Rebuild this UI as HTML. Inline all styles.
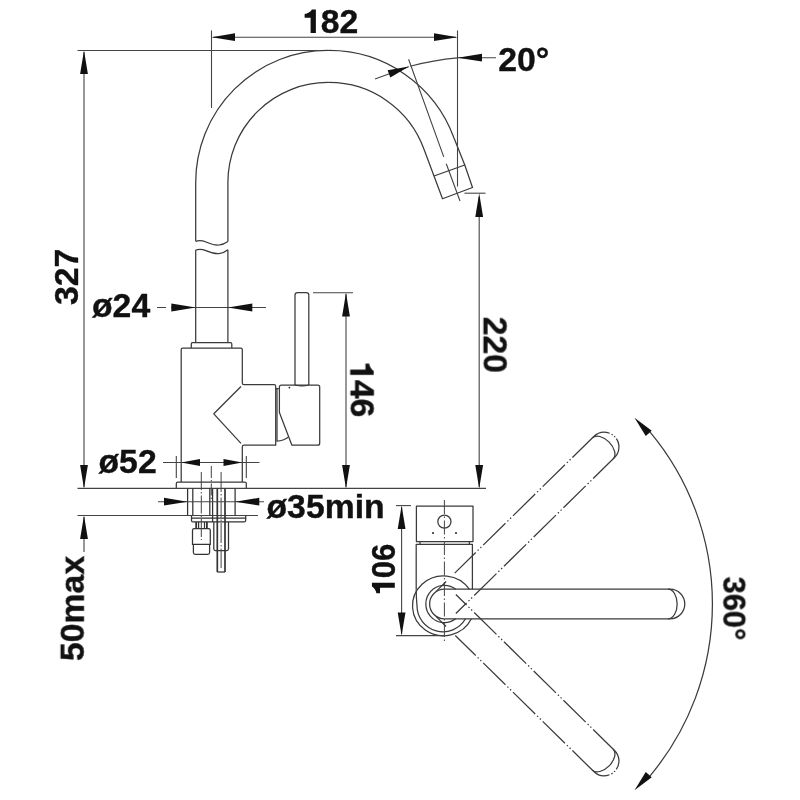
<!DOCTYPE html>
<html><head><meta charset="utf-8">
<style>
html,body{margin:0;padding:0;background:#fff;}
body{width:800px;height:800px;overflow:hidden;}
svg{display:block;}
text{font-family:"Liberation Sans",sans-serif;font-weight:bold;font-size:32px;fill:#111;stroke:#111;stroke-width:0.35;}
.o{fill:none;stroke:#3a3a3a;stroke-width:1.25;stroke-linecap:butt;stroke-linejoin:round;}
.d{fill:none;stroke:#444;stroke-width:1.1;}
.c{fill:none;stroke:#444;stroke-width:1;stroke-dasharray:14 2.5 1.5 2.5;}
.p{fill:none;stroke:#3a3a3a;stroke-width:1.25;stroke-dasharray:31.2 2.7 1.4 2.4 1.4 2.6;}
.a{fill:#111;stroke:none;}
</style></head><body>
<svg width="800" height="800" viewBox="0 0 800 800">
<rect width="800" height="800" fill="#fff"/>

<!-- ===== SIDE VIEW : spout ===== -->
<g class="o">
<path d="M195.7,241.3 V182.5 A132,132 0 0 1 328.5,50.5 A133,133 0 0 1 454,138 L464.75,165"/>
<path d="M227.9,241.5 V182.5 A100,100 0 0 1 328.5,82.5 A101,101 0 0 1 423.9,149 L434,176"/>
<path d="M434,176 L464.75,165 L472.5,187.5 L442.5,198.75 Z"/>
<!-- break waves -->
<path d="M195.7,241.3 C199,240.2 202,240.3 206,242 C211,244.3 215,245.3 219,245 C222.5,244.7 225.5,243.2 227.9,241.5"/>
<path d="M195.7,250 C199,248.8 202,248.9 206,250.6 C211,252.9 215,253.9 219,253.6 C222.5,253.3 225.5,251.8 227.9,249.8"/>
<path d="M195.7,250 V342.5"/>
<path d="M227.9,249.8 V342.5"/>
<!-- collar -->
<path d="M191.3,348 V343.9 Q191.3,342.7 192.5,342.7 H230.6 Q231.8,342.7 231.8,343.9 V348"/>
<!-- body -->
<path d="M181.2,482 V349.5 Q181.2,348 182.7,348 H240.8 Q242.3,348 242.3,349.5 V383 Q242.3,384.7 244,384.7 H274 Q275.7,384.7 275.7,386.4 V445.2 H244 Q242.3,445.2 242.3,447 V482"/>
<!-- V -->
<path d="M241,386.5 L213.8,413.8 L241,443.4"/>
<!-- strip between body and handle base -->
<path d="M275.7,388.6 H278.8 M277,388.8 V441.2 Q283.5,440.8 288.2,437.3"/>
<!-- handle base -->
<path d="M279.4,387 Q279.4,385 281.4,385 H317.7 Q319.7,385 319.7,387 V443.2 Q319.7,445.2 317.7,445.2 H291.9 L279.4,412.5 Z"/>
<!-- lever rod -->
<path d="M295,385 V295 Q295,292.5 297.5,292.5 H306.3 Q308.8,292.5 308.8,295 V385"/>
<path d="M295,385 Q302,386.8 308.8,385"/>
<!-- flange -->
<path d="M176.3,488.4 V483.5 Q176.3,482 177.8,482 H244.8 Q246.3,482 246.3,483.5 V488.4"/>
</g>
<circle cx="289.4" cy="387.6" r="0.9" fill="#222"/>

<!-- surface lines -->
<g class="d">
<path d="M77.5,488.4 H486"/>
<path d="M77.5,515.5 H258"/>
<!-- hole & internals -->
<g stroke="#333" stroke-width="1.25">
<path d="M187.6,488.4 V515.5 M235.1,488.4 V515.5"/>
<path d="M192.8,488.4 V515.5 M209.8,488.4 V515.5 M212.6,488.4 V521.9"/>
<path d="M217.3,488.4 V572 M225,488.4 V572" stroke-width="1.7"/>
<path d="M217.3,572 H225"/>
<!-- plate -->
<path d="M191.5,515.5 V520.4 Q191.5,521.9 193,521.9 H244.2 Q245.7,521.9 245.7,520.4 V515.5 M191.5,518.2 H245.7"/>
<!-- left connector -->
<path d="M196.2,521.9 V528.7 M206.9,521.9 V528.7" stroke-width="1.8"/>
<path d="M198.6,521.9 V528.7 M204.5,521.9 V528.7" stroke-width="1.2"/>
<path d="M192.5,544.4 V530.5 Q192.5,528.7 194.3,528.7 H208.5 Q210.3,528.7 210.3,530.5 V544.4 Z"/>
<path d="M193.4,544.4 V552.6 Q193.4,554.4 195.2,554.4 H207.8 Q209.6,554.4 209.6,552.6 V544.4"/>
<!-- right rod -->
<path d="M213.8,521.9 V548.8 Q213.8,550.6 215.6,550.6 H226.7 Q228.5,550.6 228.5,548.8 V521.9"/>
</g>
</g>
<g class="c">
<path d="M201.3,472 V540" stroke-dasharray="18 2 1.5 2"/>
<path d="M211.3,466 V500" stroke-dasharray="12 2 1.5 2"/>
<path d="M221.1,472 V568" stroke-dasharray="20 2 1.5 2"/>
</g>

<!-- ===== DIMENSIONS side view ===== -->
<g class="d">
<!-- 327 -->
<path d="M77.5,50.5 H318"/>
<path d="M84,52 V487"/>
<!-- 50max -->
<path d="M84,517 V552"/>
<!-- 182 -->
<path d="M211.5,30.5 V108"/>
<path d="M457.5,30.5 V186.5"/>
<path d="M213,37.2 H456"/>
<!-- 20 deg -->
<path d="M408.6,59.3 L443.75,156.9 M446.25,163.75 L460,201" />
<path d="M375,79 L408.75,66.7 M410.2,66.2 A300,300 0 0 1 457.5,57.9"/>
<path d="M457.5,57.7 H496"/>
<!-- dia 24 -->
<path d="M157,307.5 H166 M171,307.5 H266"/>
<!-- 146 -->
<path d="M313,292.8 H353"/>
<path d="M346,294 V487"/>
<!-- 220 -->
<path d="M479.2,197 V487"/>
<path d="M464.5,193.2 H485.5"/>
<!-- dia 52 -->
<path d="M163,462.5 H259.5"/>
<path d="M176.3,456 V478 M246.3,456 V478"/>
<!-- dia 35 -->
<path d="M158,501.7 H264"/>
</g>
<g class="a">
<!-- 327 arrows -->
<path d="M84,50.5 L80.1,74 H87.9 Z"/>
<path d="M84,488.4 L80.1,465 H87.9 Z"/>
<!-- 50max -->
<path d="M84,515.5 L80.1,539 H87.9 Z"/>
<!-- 182 -->
<path d="M211.5,37.2 L235,33.3 V41.1 Z"/>
<path d="M457.5,37.2 L434,33.3 V41.1 Z"/>
<!-- 20deg -->
<path d="M457.5,57.7 L482,53.8 V61.6 Z"/>
<path d="M409,66.6 L387.6,70.3 L390.3,77.6 Z"/>
<!-- dia24 -->
<path d="M195.7,307.5 L171.3,303.6 V311.4 Z"/>
<path d="M227.9,307.5 L252.3,303.6 V311.4 Z"/>
<!-- 146 -->
<path d="M346,292.8 L342.1,316.5 H349.9 Z"/>
<path d="M346,488.4 L342.1,465 H349.9 Z"/>
<!-- 220 -->
<path d="M479.2,193.2 L475.3,217 H483.1 Z"/>
<path d="M479.2,488.4 L475.3,465 H483.1 Z"/>
<!-- dia52 -->
<path d="M181.2,462.5 L200,458.9 V466.1 Z"/>
<path d="M242.3,462.5 L223.5,458.9 V466.1 Z"/>
<!-- dia35 -->
<path d="M187.6,501.7 L164,497.8 V505.6 Z"/>
<path d="M235.1,501.7 L259.3,497.8 V505.6 Z"/>
</g>

<!-- ===== PLAN VIEW ===== -->
<g class="o">
<!-- handle box -->
<path d="M416.4,541.6 V506 H473 V541.6 Z"/>
<path d="M420,541.6 V544.4 M469.4,541.6 V544.4"/>
<path d="M416.2,589.4 V544.4 H472.4 V589.2"/>
<circle cx="444.4" cy="521.6" r="6.6"/>
<!-- horizontal arm -->
<path d="M444.4,589.2 H670 A14.8,14.8 0 0 1 670,618.8 H444.4"/>
<path d="M668,589.2 A9.2,14.8 0 0 1 668,618.8"/>
<path d="M444.4,589.2 A14.8,14.8 0 0 0 444.4,618.8"/>
<!-- R18.6 circle (hidden by arm on right) -->
<path d="M455.7,589.2 A18.6,18.6 0 1 0 455.7,618.8"/>
<!-- outer ellipse (hidden by arm on right) -->
<path d="M469.3,589.2 A31,29.9 0 1 0 471.4,618.8"/>
<!-- crescent inner arc -->
<path d="M416.2,589.4 C416.2,595 416.5,600 417,605.8 A26,26 0 0 0 465.5,618.8"/>
</g>
<circle cx="433" cy="533" r="1" fill="#222"/>
<circle cx="456" cy="533" r="1" fill="#222"/>
<path class="c" d="M444.4,500 V642" stroke-dasharray="26 2.5 1.5 2.5"/>

<!-- rotated arms : local frame centre (444.4,604) -->
<g transform="rotate(-44.5 444.4 604)">
<path class="p" d="M473.4,589.2 H668.4" stroke-dashoffset="1.75"/>
<path class="p" d="M471.65,618.8 H668.4"/>
<path class="o" d="M445.9,618.8 H460.9 M463.6,618.8 h1.4 M467.4,618.8 h1.4"/>
<path class="o" d="M447.4,589.2 H461.4" stroke-width="1.5"/>
<path class="o" d="M668.4,589.2 A14.8,14.8 0 0 1 668.4,618.8" stroke-dasharray="17 2 1.4 2 1.4 2 30"/>
<path class="o" d="M666.4,589.2 A9,14.8 0 0 1 666.4,618.8"/>
</g>
<g transform="rotate(44.5 444.4 604)">
<path class="p" d="M471.65,589.2 H668.4"/>
<path class="p" d="M474.2,618.8 H668.4" stroke-dashoffset="2.55"/>
<path class="o" d="M445.9,589.2 H460.9 M463.6,589.2 h1.4 M467.4,589.2 h1.4"/>
<path class="o" d="M447.4,618.8 H461.4" stroke-width="1.5"/>
<path class="o" d="M668.4,589.2 A14.8,14.8 0 0 1 668.4,618.8" stroke-dasharray="20.5 2 1.4 2 1.4 2 30"/>
<path class="o" d="M666.4,589.2 A9,14.8 0 0 1 666.4,618.8"/>
</g>

<!-- 360 arc -->
<path class="o" d="M650.1,432.2 A268,268 0 0 1 650.1,775.8"/>
<g class="a">
<path d="M634.5,417.7 L651.75,430.75 L645.75,436 Z"/>
<path d="M634.5,790.3 L651.75,777.25 L645.75,772 Z"/>
</g>

<!-- 106 -->
<g class="d">
<path d="M396,505.6 H411"/>
<path d="M401.6,507 V634"/>
<path d="M396,635.6 H444"/>
</g>
<g class="a">
<path d="M401.6,505.6 L397.7,529 H405.5 Z"/>
<path d="M401.6,635.6 L397.7,612.5 H405.5 Z"/>
</g>

<!-- ===== TEXT ===== -->
<g opacity="0.999">
<g transform="translate(302.0,33.05) rotate(0) scale(1.055,1.05)"><path d="M13.15,0.00 L8.16,0.00 L8.16,-14.48 L2.46,-14.48 L2.46,-18.05 C5.28,-18.40 8.00,-20.00 9.44,-22.40 L13.15,-22.40 Z" fill="#111"/><text x="17.79">82</text></g>
<text transform="translate(498.25,70.68) rotate(0) scale(1.055,1.05)">20°</text>
<text transform="translate(77.65,305.0) rotate(-90) scale(1.055,1.05)">327</text>
<text transform="translate(92.0,316.7) rotate(0) scale(1.055,1.05)">ø24</text>
<text transform="translate(483.2,316.75) rotate(90) scale(1.055,1.05)">220</text>
<g transform="translate(350.2,361.0) rotate(90) scale(1.055,1.05)"><path d="M13.15,0.00 L8.16,0.00 L8.16,-14.48 L2.46,-14.48 L2.46,-18.05 C5.28,-18.40 8.00,-20.00 9.44,-22.40 L13.15,-22.40 Z" fill="#111"/><text x="17.79">46</text></g>
<text transform="translate(98.5,473.3) rotate(0) scale(1.055,1.05)">ø52</text>
<text transform="translate(266.5,518.1) rotate(0) scale(1.055,1.05)">ø35min</text>
<g transform="translate(394.8,595.6) rotate(-90) scale(0.972,1.02)"><path d="M13.15,0.00 L8.16,0.00 L8.16,-14.48 L2.46,-14.48 L2.46,-18.05 C5.28,-18.40 8.00,-20.00 9.44,-22.40 L13.15,-22.40 Z" fill="#111"/><text x="17.79">06</text></g>
<text transform="translate(84.3,661.0) rotate(-90) scale(1.055,1.05)">50max</text>
<text transform="translate(723.37,576.5) rotate(90) scale(0.966,1.0)">360°</text>
</g>
</svg>
</body></html>
